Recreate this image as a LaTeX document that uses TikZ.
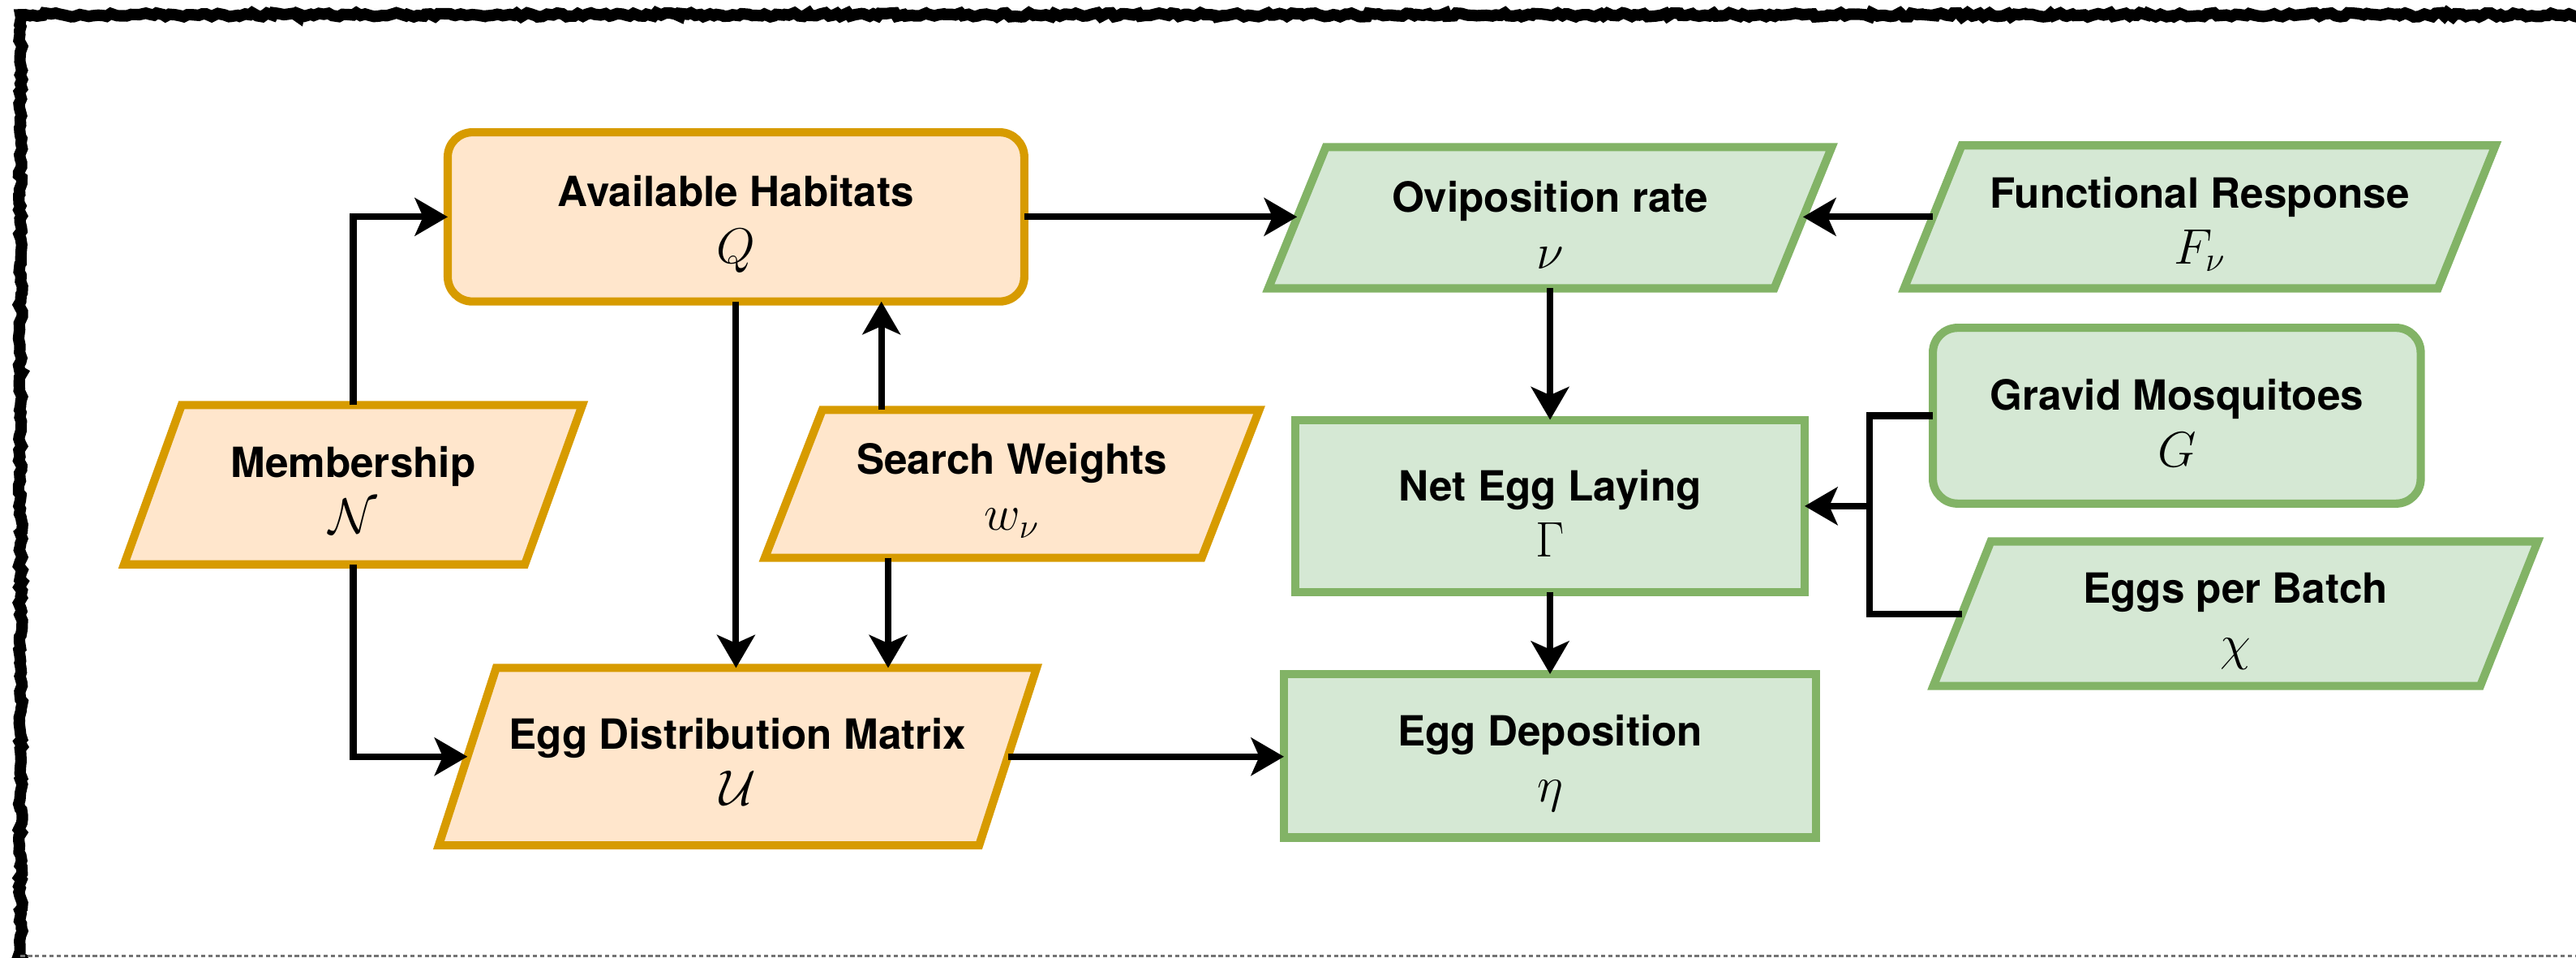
\documentclass[tikz,border=0pt]{standalone}
\usepackage{fontspec}
\setmainfont{TeX Gyre Heros}
\usetikzlibrary{arrows.meta,backgrounds,decorations.pathmorphing}

\definecolor{orfill}{HTML}{FFE6CC}
\definecolor{orline}{HTML}{D79B00}
\definecolor{grfill}{HTML}{D5E8D4}
\definecolor{grline}{HTML}{82B366}

% symbol line under each box title
\newcommand\mvar[1]{{\fontsize{17}{19.5}\selectfont$#1$}}
% slanted (data) box drawn around an invisible frame node
\newcommand\slantframe[2]{%
  \draw[#1] ([xshift=-0.35cm]#2.south west) -- ([xshift=-0.35cm]#2.south east)
    -- ([xshift=0.35cm]#2.north east) -- ([xshift=0.35cm]#2.north west) -- cycle;}

\begin{document}
\begin{tikzpicture}[x=0.02cm, y=-0.02cm,
  lbl/.style={font=\fontsize{14.4}{19.5}\selectfont\bfseries, align=center,
              inner sep=0pt, outer sep=0pt},
  boxbase/.style={inner sep=0pt, outer sep=0pt},
  orbox/.style={boxbase, draw=orline, fill=orfill, line width=0.1cm},
  grbox/.style={boxbase, draw=grline, fill=grfill, line width=0.1cm},
  softcorner/.style={rounded corners=0.3cm},
  ghost/.style={boxbase, draw=none, fill=none},
  orslant/.style={draw=orline, fill=orfill, line width=0.1cm, line join=miter},
  grslant/.style={draw=grline, fill=grfill, line width=0.1cm, line join=miter},
  link/.style={draw=black, line width=0.08cm},
  arr/.style={link, -{Stealth[length=0.4cm, width=0.46cm, inset=0.1cm]}},
  frameline/.style={line width=0.14cm, line cap=round,
    decorate, decoration={random steps, segment length=1.5pt, amplitude=0.7pt}}
]
\useasboundingbox (0,0) rectangle (1568,583);

% sketchy outer frame
\pgfmathsetseed{7}
\draw[frameline] (1580,9) -- (12.5,9) -- (12.5,590);
\draw[black!55, line width=0.03cm, dash pattern=on 1.5pt off 1pt] (12.5,582) -- (1568,582);

% process boxes
\node[orbox, softcorner, minimum width=7.02cm, minimum height=2.06cm] (hab) at (448,132) {};
\node[grbox, minimum width=6.2cm, minimum height=2.1cm] (net) at (943.5,308) {};
\node[grbox, minimum width=6.48cm, minimum height=1.99cm] (dep) at (943.5,460) {};
\node[grbox, softcorner, minimum width=5.94cm, minimum height=2.14cm] (gm) at (1325,253) {};

% data boxes (slanted outline drawn behind)
\node[ghost, minimum width=6.16cm, minimum height=1.72cm] (ovi) at (943.5,132.5) {};
\node[ghost, minimum width=6.5cm, minimum height=1.74cm] (fun) at (1339,132) {};
\node[ghost, minimum width=4.88cm, minimum height=1.94cm] (mem) at (215,295) {};
\node[ghost, minimum width=5.32cm, minimum height=1.8cm] (sw) at (616,294.5) {};
\node[ghost, minimum width=6.58cm, minimum height=2.16cm] (edm) at (449,460.5) {};
\node[ghost, minimum width=6.66cm, minimum height=1.76cm] (epb) at (1360.75,373.5) {};

\begin{scope}[on background layer]
  \slantframe{orslant}{mem}
  \slantframe{orslant}{sw}
  \slantframe{orslant}{edm}
  \slantframe{grslant}{ovi}
  \slantframe{grslant}{fun}
  \slantframe{grslant}{epb}
\end{scope}

% box texts
\node[lbl] (habT) at ([yshift=-0.09cm]hab.center) {Available Habitats\\\mvar{Q}};
\node[lbl] (netT) at ([yshift=-0.09cm]net.center) {Net Egg Laying\\\mvar{\Gamma}};
\node[lbl] (depT) at ([yshift=-0.09cm]dep.center) {Egg Deposition\\\mvar{\eta}};
\node[lbl] (gmT)  at ([yshift=-0.09cm]gm.center)  {Gravid Mosquitoes\\\mvar{G}};
\node[lbl] (oviT) at ([yshift=-0.09cm]ovi.center) {Oviposition rate\\\mvar{\nu}};
\node[lbl] (funT) at ([yshift=-0.09cm]fun.center) {Functional Response\\\mvar{F_\nu}};
\node[lbl] (memT) at ([yshift=-0.06cm]mem.center) {Membership\\\mvar{\mathcal{N}}};
\node[lbl] (swT)  at ([yshift=-0.08cm]sw.center)  {Search Weights\\\mvar{w_\nu}};
\node[lbl] (edmT) at ([yshift=-0.06cm]edm.center) {Egg Distribution Matrix\\\mvar{\mathcal{U}}};
\node[lbl] (epbT) at ([yshift=-0.09cm]epb.center) {Eggs per Batch\\\mvar{\chi}};

% connectors
\coordinate (upx) at (536.5,0);
\coordinate (dnx) at (540.6,0);
\coordinate (jx) at (1138,308);

\draw[arr] (mem.north) |- (hab.west);
\draw[arr] (mem.south) |- (edm.west);
\draw[arr] (hab.south) -- (hab.south |- edm.north);
\draw[arr] (upx |- sw.north) -- (upx |- hab.south);
\draw[arr] (dnx |- sw.south) -- (dnx |- edm.north);
\draw[arr] (hab.east) -- (hab.east -| ovi.west);
\draw[arr] (fun.west) -- (fun.west -| ovi.east);
\draw[arr] (ovi.south) -- (net.north);
\draw[arr] (net.south) -- (dep.north);
\draw[arr] (edm.east) -- (edm.east -| dep.west);
\draw[link] (gm.west) -| (jx) |- (epb.west);
\draw[arr] (jx) -- (net.east);
\end{tikzpicture}
\end{document}
